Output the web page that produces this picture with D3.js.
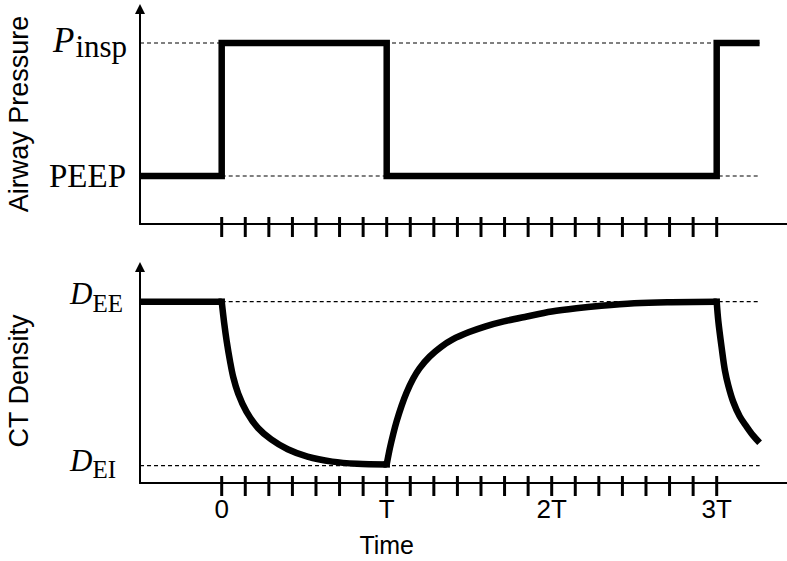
<!DOCTYPE html>
<html><head><meta charset="utf-8">
<script src="https://cdn.jsdelivr.net/npm/d3@7"></script>
<style>body{margin:0;background:#fff}svg{display:block}</style>
</head><body>
<svg id="c" width="787" height="561"></svg>
<script>
// ---- data (time in units of T, levels normalised 0..1) ----
const xTickLabels = ["0", "T", "2T", "3T"];
const xTickLabelTimes = [0, 1, 2, 3];
const ticksPerT = 7;
const pressureTime  = [-0.495, 0, 0, 1, 1, 3, 3, 3.26];
const pressureLevel = [0, 0, 1, 1, 0, 0, 1, 1];
const densityPreTime = [-0.495, 0];
const densityPreVal  = [1, 1];
const densityInspTime = [0, 0.015, 0.03, 0.05, 0.07, 0.10, 0.15, 0.22, 0.30, 0.40, 0.52, 0.67, 0.82, 1.0];
const densityInspVal  = [1, 0.87, 0.76, 0.64, 0.54, 0.44, 0.33, 0.23, 0.16, 0.10, 0.055, 0.025, 0.012, 0.008];
const densityExpTime = [1.0, 1.02, 1.04, 1.06, 1.09, 1.12, 1.16, 1.20, 1.26, 1.33, 1.40, 1.50, 1.60, 1.71, 1.85, 2.0, 2.15, 2.3, 2.5, 2.7, 3.0];
const densityExpVal  = [0.008, 0.11, 0.195, 0.27, 0.365, 0.445, 0.53, 0.595, 0.665, 0.725, 0.77, 0.815, 0.85, 0.88, 0.91, 0.94, 0.96, 0.975, 0.99, 0.997, 1.0];
const densityInsp2Time = [3.0, 3.01, 3.03, 3.05, 3.07, 3.10, 3.14, 3.18, 3.22, 3.26];
const densityInsp2Val  = [1.0, 0.88, 0.72, 0.58, 0.49, 0.39, 0.30, 0.24, 0.185, 0.14];

const svg = d3.select("#c");
const x = d3.scaleLinear().domain([0, 3]).range([221.7, 716.7]);
const yTop = d3.scaleLinear().domain([0, 1]).range([176, 43]);
const yBot = d3.scaleLinear().domain([0, 1]).range([465.7, 301.7]);
const tMin = -0.495, tEnd = 3.26, tAxisEnd = 3.52;
const LW = 6.5;

const sans = "Liberation Sans, Arial, sans-serif";
const serif = "Liberation Serif, 'Times New Roman', serif";

function panel(axisY, topY) {
  const g = svg.append("g");
  g.append("line").attr("x1", x(tMin)).attr("x2", x(tMin)).attr("y1", axisY).attr("y2", topY + 8)
    .attr("stroke", "#000").attr("stroke-width", 2);
  g.append("path").attr("d", `M${x(tMin)-5},${topY+10}L${x(tMin)},${topY}L${x(tMin)+5},${topY+10}Z`).attr("fill", "#000");
  g.append("line").attr("x1", x(tMin)-1).attr("x2", x(tAxisEnd) - 8).attr("y1", axisY).attr("y2", axisY)
    .attr("stroke", "#000").attr("stroke-width", 2);
  g.append("path").attr("d", `M${x(tAxisEnd)-10},${axisY-5}L${x(tAxisEnd)},${axisY}L${x(tAxisEnd)-10},${axisY+5}Z`).attr("fill", "#000");
  const tv = d3.range(0, 3 * ticksPerT + 1).map(i => i / ticksPerT);
  g.selectAll(".tk").data(tv).join("line")
    .attr("x1", d => x(d)).attr("x2", d => x(d))
    .attr("y1", axisY - 7).attr("y2", axisY + 13)
    .attr("stroke", "#000").attr("stroke-width", 3);
  return g;
}

function dashed(g, y, v, t0, t1) {
  g.append("line").attr("x1", x(t0)).attr("x2", x(t1)).attr("y1", y(v)).attr("y2", y(v))
    .attr("stroke", "#000").attr("stroke-width", 1.2).attr("stroke-dasharray", "4,3");
}

// ---- top panel ----
const gTop = panel(224, 4);
dashed(gTop, yTop, 1, tMin, tEnd);
dashed(gTop, yTop, 0, 0, tEnd);
const pLine = d3.line().x((d, i) => x(pressureTime[i])).y((d, i) => yTop(pressureLevel[i]));
gTop.append("path").attr("d", pLine(pressureTime)).attr("fill", "none")
  .attr("stroke", "#000").attr("stroke-width", LW).attr("stroke-linejoin", "miter");

// ---- bottom panel ----
const gBot = panel(483, 262);
dashed(gBot, yBot, 1, 0, tEnd);
dashed(gBot, yBot, 0, tMin, tEnd);
function curveSeg(ts, vs) {
  const l = d3.line().x(d => x(d[0])).y(d => yBot(d[1])).curve(d3.curveCatmullRom.alpha(0.5));
  gBot.append("path").attr("d", l(ts.map((t, i) => [t, vs[i]]))).attr("fill", "none")
    .attr("stroke", "#000").attr("stroke-width", LW).attr("stroke-linejoin", "round").attr("stroke-linecap", "butt");
}
curveSeg(densityPreTime, densityPreVal);
curveSeg(densityInspTime, densityInspVal);
curveSeg(densityExpTime, densityExpVal);
curveSeg(densityInsp2Time, densityInsp2Val);
[[0,1],[1,densityInspVal[densityInspVal.length-1]],[3,1]].forEach(p => {
  gBot.append("rect").attr("x", x(p[0]) - LW/2).attr("y", yBot(p[1]) - LW/2).attr("width", LW).attr("height", LW).attr("fill", "#000");
});

// tick labels
svg.selectAll(".xl").data(xTickLabels).join("text")
  .attr("x", (d, i) => x(xTickLabelTimes[i])).attr("y", 518)
  .attr("text-anchor", "middle").attr("font-family", sans).attr("font-size", 26).text(d => d);
svg.append("text").attr("x", x(1)).attr("y", 554).attr("text-anchor", "middle")
  .attr("font-family", sans).attr("font-size", 25).text("Time");

// y titles
svg.append("text").attr("transform", "translate(28,114) rotate(-90)").attr("text-anchor", "middle")
  .attr("font-family", sans).attr("font-size", 27).text("Airway Pressure");
svg.append("text").attr("transform", "translate(28,381) rotate(-90)").attr("text-anchor", "middle")
  .attr("font-family", sans).attr("font-size", 27).text("CT Density");

// level labels
const pl = svg.append("text").attr("x", 53).attr("y", 52).attr("font-family", serif).attr("fill", "#000");
pl.append("tspan").attr("font-style", "italic").attr("font-size", 35).text("P");
pl.append("tspan").attr("font-size", 31).attr("dx", 1).attr("dy", 5).text("insp");
svg.append("text").attr("x", 49).attr("y", 187).attr("font-family", serif).attr("font-size", 33).text("PEEP");
const de = svg.append("text").attr("x", 70).attr("y", 304).attr("font-family", serif);
de.append("tspan").attr("font-style", "italic").attr("font-size", 31).text("D");
de.append("tspan").attr("font-size", 25).attr("dy", 8).text("EE");
const di = svg.append("text").attr("x", 70).attr("y", 471).attr("font-family", serif);
di.append("tspan").attr("font-style", "italic").attr("font-size", 31).text("D");
di.append("tspan").attr("font-size", 25).attr("dy", 7).text("EI");
</script>
</body></html>
